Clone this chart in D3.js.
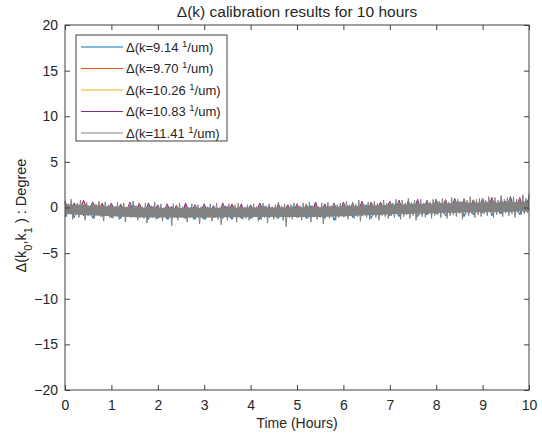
<!DOCTYPE html>
<html>
<head>
<meta charset="utf-8">
<script src="https://cdn.jsdelivr.net/npm/d3@7"></script>
<style>
  body { margin: 0; background: #fff; }
  svg { font-family: "Liberation Sans", Arial, sans-serif; }
</style>
</head>
<body>
<script>
// series values (degrees), evenly spaced over 0..10 hours
let k914 = [
  -1.0,0.2,-1.1,0.3,-0.9,0.1,-1.2,0.2,-1.0,0.0,
  -1.1,0.1,-1.2,0.0,-1.0,0.2,-1.1,-0.1,-1.3,0.1,
  -1.2,-0.1,-1.3,0.1,-1.1,-0.2,-1.2,0.0,-1.3,-0.1,
  -1.3,0.0,-1.1,-0.2,-1.2,0.1,-1.3,-0.1,-1.2,0.0,
  -1.2,-0.1,-1.3,0.1,-1.1,-0.2,-1.2,0.0,-1.0,0.1,
  -1.1,0.0,-1.2,0.2,-1.0,-0.1,-1.2,0.1,-1.4,0.0,
  -1.0,0.2,-1.1,0.0,-0.9,0.3,-1.2,0.1,-0.8,0.2,
  -0.9,0.3,-1.0,0.1,-0.7,0.4,-1.0,0.2,-0.8,0.3,
  -0.7,0.5,-0.9,0.3,-0.6,0.6,-1.0,0.4,-0.8,0.5,
  -0.6,0.6,-0.9,0.4,-0.7,0.7,-0.5,0.5,-0.8,0.6,
  0.7
];
let k970 = [
  0.6,-0.7,0.4,-0.6,0.7,-0.8,0.3,-0.6,0.5,-0.7,
  0.3,-0.9,0.4,-0.8,0.2,-1.0,0.5,-0.9,0.3,-0.8,
  0.2,-1.0,0.3,-0.9,0.1,-1.1,0.4,-0.9,0.2,-1.0,
  0.3,-1.0,0.1,-1.1,0.2,-0.9,0.4,-1.0,0.2,-1.1,
  0.2,-1.0,0.4,-0.9,0.1,-1.0,0.3,-1.1,0.2,-0.9,
  0.3,-0.9,0.2,-1.0,0.5,-0.9,0.3,-1.0,0.2,-0.8,
  0.4,-0.8,0.5,-0.9,0.3,-0.8,0.6,-0.9,0.4,-0.7,
  0.6,-0.7,0.5,-0.8,0.7,-0.6,0.5,-0.8,0.8,-0.7,
  0.7,-0.6,0.9,-0.7,0.6,-0.5,0.8,-0.7,0.7,-0.6,
  0.8,-0.5,1.0,-0.6,0.7,-0.5,0.9,-0.6,1.1,-0.5,
  1.0
];
let k1026 = [
  0.4,-0.7,0.5,-0.8,0.3,-0.6,0.6,-0.7,0.4,-0.8,
  0.2,-0.9,0.3,-1.0,0.1,-0.8,0.4,-0.9,0.2,-1.0,
  0.1,-1.0,0.2,-1.1,0.3,-0.9,0.0,-1.0,0.2,-1.1,
  0.2,-1.1,0.0,-1.0,0.3,-1.1,0.1,-0.9,0.2,-1.0,
  0.1,-0.9,0.3,-1.0,0.2,-1.1,0.0,-0.9,0.3,-1.0,
  0.2,-1.0,0.4,-0.9,0.1,-1.0,0.3,-0.8,0.2,-0.9,
  0.3,-0.8,0.4,-0.9,0.5,-0.7,0.3,-0.9,0.5,-0.8,
  0.5,-0.7,0.6,-0.8,0.4,-0.6,0.7,-0.7,0.5,-0.8,
  0.6,-0.6,0.7,-0.5,0.8,-0.7,0.6,-0.6,0.9,-0.5,
  0.7,-0.6,0.9,-0.4,0.8,-0.5,1.0,-0.6,0.8,-0.4,
  0.9
];
let k1083 = [
  0.7,-0.6,0.5,-0.7,0.8,-0.5,0.6,-0.7,0.4,-0.6,
  0.5,-0.8,0.3,-0.7,0.6,-0.9,0.4,-0.8,0.5,-0.7,
  0.3,-0.9,0.4,-0.8,0.2,-1.0,0.5,-0.9,0.3,-0.8,
  0.4,-0.9,0.2,-1.0,0.5,-0.8,0.3,-0.9,0.4,-1.0,
  0.3,-0.9,0.5,-0.8,0.2,-1.0,0.4,-0.9,0.3,-0.8,
  0.4,-0.8,0.3,-0.9,0.6,-0.8,0.4,-0.7,0.5,-0.9,
  0.6,-0.7,0.4,-0.8,0.7,-0.6,0.5,-0.8,0.6,-0.7,
  0.7,-0.6,0.8,-0.7,0.6,-0.5,0.9,-0.7,0.7,-0.6,
  0.9,-0.5,0.8,-0.6,1.0,-0.4,0.9,-0.6,0.8,-0.5,
  1.0,-0.4,1.1,-0.5,0.9,-0.4,1.2,-0.5,1.0,-0.3,
  1.1
];
let k1141 = [
  0.7,-1.0,0.4,-0.6,0.9,-1.3,0.2,-0.8,0.5,-1.1,0.8,-0.5,0.3,-1.4,0.6,-0.9,0.1,-0.7,0.5,-1.2,0.4,-0.6,0.7,-1.0,0.2,-1.5,0.6,-0.8,0.3,-1.1,
  0.4,-1.2,0.1,-0.9,0.6,-1.3,0.2,-0.8,0.5,-1.6,0.0,-1.0,0.3,-1.1,0.7,-0.9,0.2,-1.4,0.4,-0.8,0.1,-1.2,0.5,-1.7,0.3,-0.9,0.2,-1.1,0.6,-1.3,
  0.2,-1.1,0.4,-1.5,0.0,-1.0,0.3,-1.3,0.1,-2.0,0.4,-1.1,0.2,-1.4,0.5,-0.9,0.1,-1.2,0.3,-1.6,0.0,-1.1,0.4,-1.3,0.2,-1.0,0.3,-1.8,0.1,-1.2,
  0.3,-1.3,0.1,-1.0,0.4,-1.5,0.2,-1.1,0.5,-1.3,0.0,-1.9,0.3,-1.0,0.2,-1.4,0.4,-1.2,0.1,-1.0,0.3,-1.6,0.5,-1.1,0.2,-1.3,0.0,-1.2,0.3,-1.4,
  0.2,-1.2,0.4,-1.0,0.1,-1.5,0.3,-1.3,0.5,-1.1,0.2,-1.7,0.4,-1.0,0.1,-1.3,0.3,-1.2,0.6,-1.0,0.2,-1.4,0.4,-2.1,0.1,-1.1,0.3,-1.3,0.5,-1.0,
  0.4,-1.1,0.2,-1.4,0.5,-1.0,0.3,-1.2,0.6,-1.6,0.2,-1.0,0.4,-1.3,0.1,-1.1,0.5,-1.8,0.3,-0.9,0.6,-1.2,0.2,-1.0,0.4,-1.4,0.3,-1.1,0.5,-0.9,
  0.5,-1.0,0.7,-1.3,0.3,-0.9,0.6,-1.2,0.4,-1.0,0.8,-1.5,0.5,-0.8,0.3,-1.1,0.6,-1.3,0.4,-0.9,0.7,-1.1,0.5,-1.4,0.3,-0.9,0.8,-1.0,0.5,-1.2,
  0.7,-0.9,0.5,-1.1,0.9,-0.8,0.6,-1.3,0.8,-1.0,0.5,-0.8,1.0,-1.2,0.6,-0.9,0.8,-1.4,0.7,-0.8,0.9,-1.0,0.5,-1.1,0.8,-0.7,0.6,-1.2,0.9,-0.9,
  0.9,-0.8,0.7,-1.1,1.0,-0.7,0.8,-1.2,0.6,-0.9,1.1,-0.8,0.8,-1.0,0.9,-0.6,0.7,-1.3,1.0,-0.8,0.8,-0.9,1.2,-0.7,0.7,-1.1,0.9,-0.8,1.0,-1.0,
  1.0,-0.7,0.8,-0.9,1.2,-0.6,0.9,-1.1,1.1,-0.8,0.8,-0.7,1.3,-1.0,0.9,-0.6,1.1,-0.9,1.0,-0.7,1.2,-1.1,0.9,-0.6,1.1,-0.8,1.4,-0.7,1.0,-0.6,
  1.5
];
// solid core of the dense gray trace, read hourly
let coreHi = [0.35, 0.1, -0.05, -0.05, 0.0, 0.0, 0.1, 0.3, 0.45, 0.55, 0.6];
let coreLo = [-0.7, -0.95, -1.1, -1.1, -1.05, -1.05, -0.95, -0.75, -0.6, -0.5, -0.45];

let seriesNames = ['9.14', '9.70', '10.26', '10.83', '11.41'];
let seriesData = [k914, k970, k1026, k1083, k1141];
let colors = ['#0072bd', '#d95319', '#edb120', '#7e2f8e', '#828282'];
let xTicks = [0, 1, 2, 3, 4, 5, 6, 7, 8, 9, 10];
let yTicks = [-20, -15, -10, -5, 0, 5, 10, 15, 20];

let width = 542, height = 434;
let margin = {top: 25, right: 13, bottom: 44, left: 65};
let innerW = width - margin.left - margin.right,
    innerH = height - margin.top - margin.bottom;

let svg = d3.select('body').append('svg')
    .attr('width', width)
    .attr('height', height);

let g = svg.append('g')
    .attr('transform', 'translate(' + margin.left + ',' + margin.top + ')');

let x = d3.scaleLinear().domain([0, 10]).range([0, innerW]);
let y = d3.scaleLinear().domain([-20, 20]).range([innerH, 0]);

let axisColor = '#404040', textColor = '#262626';

let line = d3.line()
    .x((d, i, arr) => x(i * 10 / (arr.length - 1)))
    .y(d => y(d));

// coloured traces first, the gray one ends on top
seriesData.slice(0, 4).forEach((s, i) => {
    g.append('path')
        .datum(s)
        .attr('d', d => line(d, 0, d))
        .attr('fill', 'none')
        .attr('stroke', colors[i])
        .attr('stroke-width', 1)
        .attr('stroke-linejoin', 'bevel');
});

let core = d3.area()
    .x((d, i) => x(i))
    .y0((d, i) => y(coreLo[i]))
    .y1(d => y(d))
    .curve(d3.curveMonotoneX);

g.append('path')
    .datum(coreHi)
    .attr('d', core)
    .attr('fill', colors[4])
    .attr('stroke', 'none');

g.append('path')
    .datum(k1141)
    .attr('d', d => line(d, 0, d))
    .attr('fill', 'none')
    .attr('stroke', colors[4])
    .attr('stroke-width', 1)
    .attr('stroke-linejoin', 'bevel');

// axes with inward ticks on every side
function styleAxis(sel) {
    sel.select('.domain').remove();
    sel.selectAll('line').attr('stroke', axisColor);
    sel.selectAll('text').attr('fill', textColor).style('font-size', '14px')
        .style('font-family', '"Liberation Sans", Arial, sans-serif');
}

g.append('g')
    .attr('transform', 'translate(0,' + innerH + ')')
    .call(d3.axisBottom(x).tickValues(xTicks).tickSize(-5).tickPadding(10))
    .call(styleAxis);
g.append('g')
    .call(d3.axisTop(x).tickValues(xTicks).tickSize(-5).tickFormat(''))
    .call(styleAxis);
g.append('g')
    .call(d3.axisLeft(y).tickValues(yTicks).tickSize(-5).tickPadding(7))
    .call(styleAxis);
g.append('g')
    .attr('transform', 'translate(' + innerW + ',0)')
    .call(d3.axisRight(y).tickValues(yTicks).tickSize(-5).tickFormat(''))
    .call(styleAxis);

g.append('rect')
    .attr('width', innerW)
    .attr('height', innerH)
    .attr('fill', 'none')
    .attr('stroke', axisColor)
    .attr('stroke-width', 1);

// title and labels
svg.append('text')
    .attr('x', margin.left + innerW / 2)
    .attr('y', 17)
    .attr('text-anchor', 'middle')
    .attr('fill', textColor)
    .style('font-size', '15.5px')
    .text('\u0394(k) calibration results for 10 hours');

svg.append('text')
    .attr('x', margin.left + innerW / 2)
    .attr('y', 428)
    .attr('text-anchor', 'middle')
    .attr('fill', textColor)
    .style('font-size', '14px')
    .text('Time (Hours)');

let yl = svg.append('text')
    .attr('transform', 'translate(26,' + (margin.top + innerH / 2 + 8) + ') rotate(-90)')
    .attr('text-anchor', 'middle')
    .attr('fill', textColor)
    .style('font-size', '14.5px');
yl.append('tspan').text('\u0394(k');
yl.append('tspan').attr('baseline-shift', 'sub').style('font-size', '11px').text('0');
yl.append('tspan').text(',k');
yl.append('tspan').attr('baseline-shift', 'sub').style('font-size', '11px').text('1');
yl.append('tspan').text(' ) : Degree');

// legend
let leg = svg.append('g').attr('transform', 'translate(76,35)');
leg.append('rect')
    .attr('width', 151)
    .attr('height', 106)
    .attr('fill', '#fff')
    .attr('stroke', axisColor)
    .attr('stroke-width', 1);

seriesNames.forEach((name, i) => {
    let cy = 12 + i * 21.5;
    leg.append('line')
        .attr('x1', 5).attr('x2', 47)
        .attr('y1', cy).attr('y2', cy)
        .attr('stroke', colors[i])
        .attr('stroke-width', 1);
    let t = leg.append('text')
        .attr('x', 50)
        .attr('y', cy + 4.5)
        .attr('fill', textColor)
        .style('font-size', '13px');
    t.append('tspan').text('\u0394(k=' + name + ' ');
    t.append('tspan').attr('baseline-shift', 'super').style('font-size', '9.5px').text('1');
    t.append('tspan').text('/um)');
});
</script>
</body>
</html>
